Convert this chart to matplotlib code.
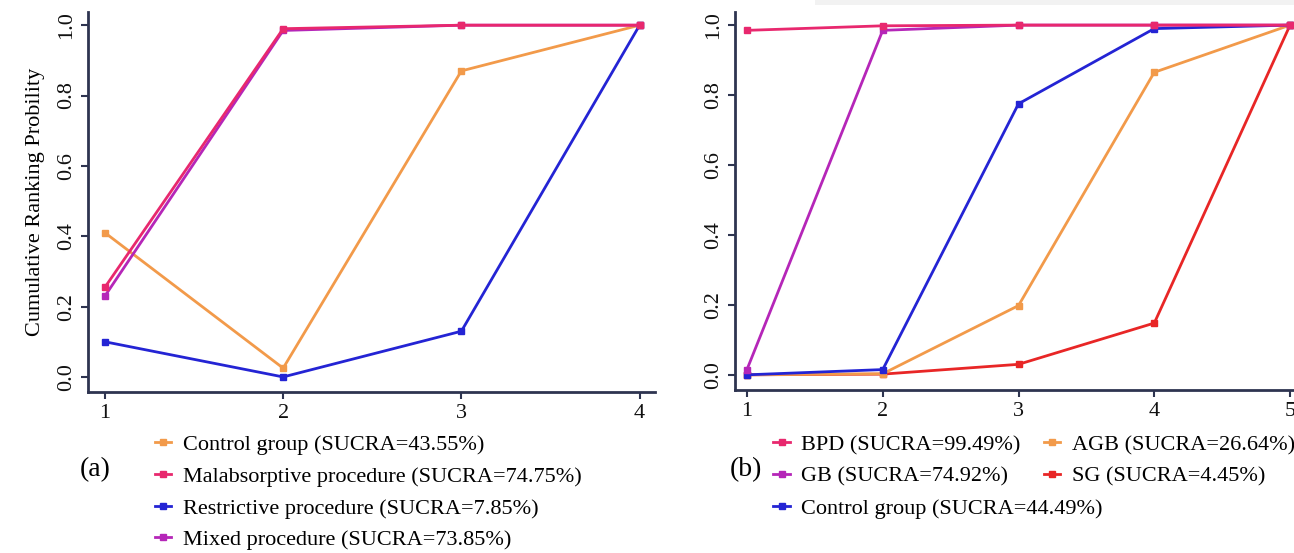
import matplotlib
matplotlib.use("Agg")
import matplotlib.pyplot as plt
from matplotlib.lines import Line2D
from matplotlib.patches import Rectangle

plt.rcParams['font.family'] = ['Liberation Serif', 'DejaVu Serif']

# Panel (a): surgery type categories
ranks_a = [1, 2, 3, 4]
labels_a = ["Control group (SUCRA=43.55%)",
            "Malabsorptive procedure (SUCRA=74.75%)",
            "Restrictive procedure (SUCRA=7.85%)",
            "Mixed procedure (SUCRA=73.85%)"]
control_a = [0.41, 0.025, 0.87, 1.0]
malabsorptive_a = [0.255, 0.99, 1.0, 1.0]
restrictive_a = [0.10, 0.0, 0.13, 1.0]
mixed_a = [0.23, 0.985, 1.0, 1.0]

# Panel (b): individual procedures
ranks_b = [1, 2, 3, 4, 5]
labels_b_left = ["BPD (SUCRA=99.49%)",
                 "GB (SUCRA=74.92%)",
                 "Control group (SUCRA=44.49%)"]
labels_b_right = ["AGB (SUCRA=26.64%)",
                  "SG (SUCRA=4.45%)"]
bpd_b = [0.985, 0.998, 1.0, 1.0, 1.0]
gb_b = [0.015, 0.985, 1.0, 1.0, 1.0]
control_b = [0.0, 0.015, 0.775, 0.99, 1.0]
agb_b = [0.0, 0.003, 0.198, 0.865, 1.0]
sg_b = [0.0, 0.002, 0.03, 0.148, 1.0]

ORANGE = "#F29A4A"
CRIMSON = "#E8286E"
BLUE = "#2424D4"
MAGENTA = "#B526B8"
RED = "#E82626"
SPINE = "#2E3450"

fig = plt.figure(figsize=(12.94, 5.53), dpi=100)

# faint band along the top edge above the right panel
fig.patches.append(Rectangle((815 / 1294, 1 - 5 / 553), 1 - 815 / 1294, 5 / 553,
                             transform=fig.transFigure, facecolor="#F2F2F2",
                             edgecolor="none", zorder=0))

ax_a = fig.add_axes([0.068, 0.291, 0.438, 0.687])
ax_b = fig.add_axes([0.568, 0.295, 0.4405, 0.683])

def style(ax, xmin, xmax, ticks):
    ax.set_xlim(xmin, xmax)
    ax.set_ylim(-0.043, 1.037)
    ax.set_xticks(ticks)
    ax.set_yticks([0.0, 0.2, 0.4, 0.6, 0.8, 1.0])
    ax.set_yticklabels(["0.0", "0.2", "0.4", "0.6", "0.8", "1.0"])
    ax.patch.set_alpha(0)
    for s in ("top", "right"):
        ax.spines[s].set_visible(False)
    for s in ("left", "bottom"):
        ax.spines[s].set_color(SPINE)
        ax.spines[s].set_linewidth(2.0)
    ax.tick_params(axis="both", colors=SPINE, labelcolor="#111111",
                   labelsize=16, length=5, width=1.5)
    ax.tick_params(axis="y", labelrotation=90)
    for lab in ax.get_yticklabels():
        lab.set_va("center")

def series(ax, x, y, color, z=2):
    ax.plot(x, y, color=color, lw=2.0, marker="s", ms=5, zorder=z)

series(ax_a, ranks_a, control_a, ORANGE)
series(ax_a, ranks_a, restrictive_a, BLUE)
series(ax_a, ranks_a, mixed_a, MAGENTA)
series(ax_a, ranks_a, malabsorptive_a, CRIMSON)
style(ax_a, 0.905, 4.085, ranks_a)
ax_a.set_ylabel("Cumulative Ranking Probility", fontsize=16, labelpad=9)

series(ax_b, ranks_b, sg_b, RED)
series(ax_b, ranks_b, agb_b, ORANGE)
series(ax_b, ranks_b, control_b, BLUE)
series(ax_b, ranks_b, gb_b, MAGENTA)
series(ax_b, ranks_b, bpd_b, CRIMSON)
style(ax_b, 0.912, 5.11, ranks_b)

def handle(color):
    return Line2D([], [], color=color, lw=2.0, marker="s", ms=4)

legend_kw = dict(loc="upper left", frameon=False, fontsize=16, handlelength=0.75,
                 handletextpad=0.5, labelspacing=0.5, borderpad=0)

fig.legend([handle(c) for c in (ORANGE, CRIMSON, BLUE, MAGENTA)], labels_a,
           bbox_to_anchor=(0.111, 0.234), **legend_kw)
fig.text(0.062, 0.15, "(a)", fontsize=20, va="center")

fig.legend([handle(c) for c in (CRIMSON, MAGENTA, BLUE)], labels_b_left,
           bbox_to_anchor=(0.589, 0.234), **legend_kw)
fig.legend([handle(c) for c in (ORANGE, RED)], labels_b_right,
           bbox_to_anchor=(0.798, 0.234), **legend_kw)
fig.text(0.564, 0.15, "(b)", fontsize=20, va="center")

fig.savefig("out.png", dpi=100)
